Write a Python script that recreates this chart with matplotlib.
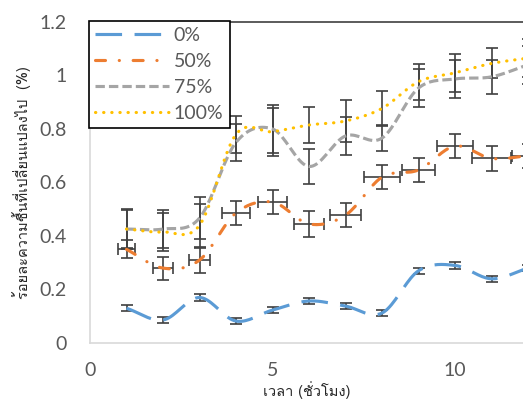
import numpy as np
import matplotlib
matplotlib.use('Agg')
import matplotlib.pyplot as plt
from matplotlib import font_manager
from matplotlib.ft2font import FT2Font

# data (hours vs. % moisture change)
hours = [1, 2, 3, 4, 5, 6, 7, 8, 9, 10, 11, 12]
labels = ['0%', '50%', '75%', '100%']

m0 = [0.13, 0.086, 0.17, 0.082, 0.123, 0.157, 0.138, 0.112, 0.27, 0.29, 0.24, 0.28]
m50 = [0.35, 0.28, 0.31, 0.486, 0.527, 0.445, 0.478, 0.62, 0.647, 0.736, 0.69, 0.70]
m75 = [0.426, 0.426, 0.467, 0.75, 0.80, 0.66, 0.774, 0.766, 0.953, 0.987, 0.995, 1.04]
m100 = [0.426, 0.415, 0.44, 0.78, 0.79, 0.815, 0.83, 0.877, 0.977, 1.01, 1.045, 1.065]

err0 = [0.012, 0.012, 0.012, 0.012, 0.012, 0.012, 0.012, 0.012, 0.012, 0.012, 0.012, 0.012]
err50 = [0.034, 0.043, 0.047, 0.045, 0.045, 0.047, 0.045, 0.045, 0.045, 0.045, 0.047, 0.045]
xerr50 = [0.24, 0.27, 0.29, 0.38, 0.40, 0.41, 0.42, 0.5, 0.46, 0.48, 0.53, 0.45]
err75 = [0.07, 0.07, 0.08, 0.07, 0.09, 0.064, 0.07, 0.05, 0.07, 0.07, 0.064, 0.07]
err100 = [0.075, 0.07, 0.08, 0.07, 0.09, 0.067, 0.08, 0.065, 0.067, 0.07, 0.056, 0.07]


def thai_font():
    for f in font_manager.fontManager.ttflist:
        try:
            if 0x0E01 in FT2Font(f.fname).get_charmap():
                return f.name
        except Exception:
            pass
    return 'DejaVu Sans'


def smooth(x, y, n=20):
    # catmull-rom curve through the points, like Excel's smoothed line
    x = np.asarray(x, float)
    y = np.asarray(y, float)
    px = np.concatenate([[2 * x[0] - x[1]], x, [2 * x[-1] - x[-2]]])
    py = np.concatenate([[2 * y[0] - y[1]], y, [2 * y[-1] - y[-2]]])
    t = np.linspace(0, 1, n)[:, None]
    xs, ys = [], []
    for i in range(1, len(px) - 2):
        for p, out in ((px, xs), (py, ys)):
            p0, p1, p2, p3 = p[i - 1], p[i], p[i + 1], p[i + 2]
            c = 0.5 * ((2 * p1) + (-p0 + p2) * t + (2 * p0 - 5 * p1 + 4 * p2 - p3) * t ** 2
                       + (-p0 + 3 * p1 - 3 * p2 + p3) * t ** 3)
            out.append(c.ravel())
    return np.concatenate(xs), np.concatenate(ys)


thai = thai_font()
plt.rcParams['font.family'] = ['Lato', 'DejaVu Sans']

fig = plt.figure(figsize=(5.23, 4.0), dpi=100)
ax = fig.add_axes([90 / 523, 57 / 400, 438 / 523, 321 / 400])

ecol = '#404040'
ekw = dict(fmt='none', ecolor=ecol, elinewidth=1.2, capsize=4.5, capthick=1.2, zorder=2)

series = [
    (m0, err0, None, '#5B9BD5', (0, (8.5, 4)), 'butt'),
    (m50, err50, xerr50, '#ED7D31', (0, (3.2, 4.4, 0.05, 4.4)), 'round'),
    (m75, err75, None, '#A5A5A5', (0, (3, 1.3)), 'butt'),
    (m100, err100, None, '#FFC000', (0, (0.1, 2.5)), 'round'),
]
for (vals, ye, xe, col, ls, cap), lab in zip(series, labels):
    ax.errorbar(hours, vals, yerr=ye, xerr=xe, **ekw)
    sx, sy = smooth(hours, vals)
    ln, = ax.plot(sx, sy, color=col, lw=2.25, linestyle=ls, label=lab, zorder=3)
    ln.set_dash_capstyle(cap)

ax.set_xlim(0, 12)
ax.set_ylim(0, 1.2)
ax.set_xticks([0, 5, 10])
ax.set_yticks(np.arange(0, 1.21, 0.2))
ax.yaxis.set_major_formatter(plt.FuncFormatter(lambda v, p: f'{v:g}'))
ax.tick_params(length=0, labelsize=14, labelcolor='#595959')
ax.tick_params(axis='y', pad=16.5)
ax.tick_params(axis='x', pad=13.5)

for s in ('left', 'bottom'):
    ax.spines[s].set_color('#D9D9D9')
    ax.spines[s].set_linewidth(1.2)
ax.spines['top'].set_color('#404040')
ax.spines['top'].set_linewidth(1.2)
ax.spines['right'].set_visible(False)

leg = ax.legend(loc='upper left', bbox_to_anchor=(-0.003, 1.003), borderaxespad=0,
                fontsize=14, handlelength=3.8, labelspacing=0.45, handletextpad=0.25,
                fancybox=False, framealpha=1, edgecolor='black', borderpad=0.32)
leg.get_frame().set_linewidth(1.2)
for t in leg.get_texts():
    t.set_color('#595959')

fig.text(22 / 523, 1 - 183 / 400, 'ร้อยละความชื้นที่เปลี่ยนแปลงไป  (%)', rotation=90,
         ha='center', va='center', fontsize=10.5, color='#262626', family=[thai, 'DejaVu Sans'])
fig.text(307 / 523, 1 - 390 / 400, 'เวลา (ชั่วโมง)', ha='center', va='center',
         fontsize=10.5, color='#262626', family=[thai, 'DejaVu Sans'])

fig.savefig('out.png', dpi=100)
